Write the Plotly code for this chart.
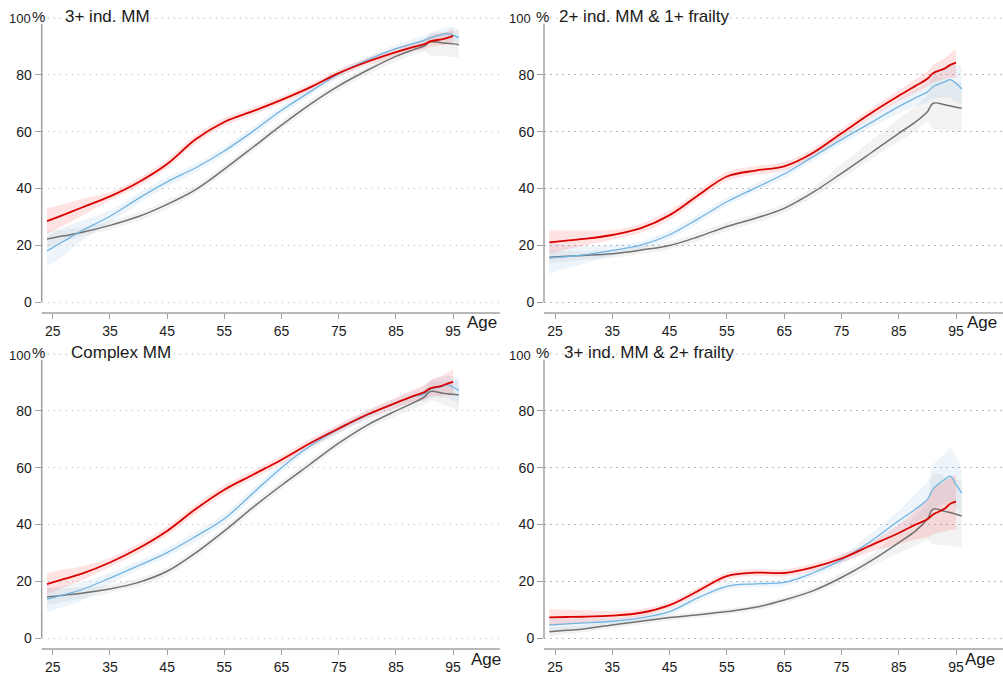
import plotly.graph_objects as go

W, H = 1003, 676

ages = [24, 27, 30, 35, 40, 45, 50, 55, 60, 65, 70, 75, 80, 85, 88, 90, 91, 93, 94, 95, 96]
x_ticks = [25, 35, 45, 55, 65, 75, 85, 95]
y_ticks = [0, 20, 40, 60, 80]
y_ticklabels = ["0", "20", "40", "60", "80"]
panel_titles = ["3+ ind. MM", "2+ ind. MM & 1+ frailty", "Complex MM", "3+ ind. MM & 2+ frailty"]

# ---- Panel 1: 3+ ind. MM ----
p1_red = [28.5, 30.8, 33.2, 37.2, 42.2, 48.6, 57.3, 63.4, 67.2, 71.2, 75.6, 80.6, 84.6, 88, 89.8, 90.8, 91.8, 92.5, 93, 93.7]
p1_red_lo = [24, 27, 30.3, 35.8, 40.8, 47.1, 55.8, 62, 65.9, 70, 74.4, 79.4, 83.3, 86.5, 88.2, 89, 89.8, 90.3, 90.7, 91]
p1_red_hi = [33, 34.5, 36.2, 38.7, 43.7, 50.1, 58.8, 64.9, 68.6, 72.5, 76.8, 81.9, 85.9, 89.5, 91.4, 92.6, 93.8, 94.7, 95.3, 96.3]
p1_blue = [18, 21.5, 25, 30.2, 36.5, 42.3, 47.3, 53.2, 60.1, 67.5, 74, 80.3, 85.2, 89.2, 91, 92.2, 93, 94.2, 94.5, 94, 93]
p1_blue_lo = [12.5, 16.5, 21.5, 28, 34.7, 40.6, 45.8, 51.7, 58.6, 66, 72.6, 79, 84, 87.8, 89.5, 90.5, 91.2, 92, 92, 91.3, 90]
p1_blue_hi = [23, 26.3, 28.5, 32.3, 38.3, 44, 48.8, 54.7, 61.6, 69, 75.4, 81.6, 86.4, 90.6, 92.5, 93.9, 94.8, 96.2, 96.8, 96.8, 96]
p1_gray = [22.2, 23.3, 24.5, 27, 30.1, 34.4, 39.6, 46.8, 54.5, 62.3, 69.6, 76.1, 81.6, 86.5, 88.8, 90.2, 91.6, 91.3, 91.1, 90.9, 90.6]
p1_gray_lo = [19, 21.3, 23, 25.5, 28.6, 32.8, 38.1, 45.3, 53, 60.8, 68.1, 74.6, 80, 84.7, 86.8, 88, 86.8, 86.6, 86.5, 86.3, 86]
p1_gray_hi = [25.5, 25.5, 26.2, 28.5, 31.6, 36, 41.1, 48.3, 56, 63.8, 71.1, 77.6, 83.2, 88.3, 90.8, 92.4, 94.5, 95, 95.2, 95.4, 95.5]

# ---- Panel 2: 2+ ind. MM & 1+ frailty ----
p2_red = [21, 21.6, 22.2, 23.6, 26, 30.6, 37.6, 44.2, 46.3, 47.8, 52.5, 59.4, 66.3, 72.6, 76.2, 78.6, 80.6, 82.2, 83.5, 84.3]
p2_red_lo = [17, 18.5, 19.8, 22, 24.4, 29, 36, 42.6, 44.8, 46.3, 51, 57.8, 64.6, 70.7, 73.8, 75.9, 77.5, 78.5, 79, 79]
p2_red_hi = [25.3, 25.2, 25.2, 25.4, 27.6, 32.2, 39.2, 45.8, 47.8, 49.4, 54, 61, 68, 74.6, 78.5, 81.3, 83.5, 85.8, 87.5, 89.2]
p2_blue = [15.5, 16, 16.6, 18.2, 20, 23.7, 29.3, 35.3, 40.2, 45.1, 51.1, 57.2, 63, 68.8, 72, 74, 75.8, 77.5, 78.3, 77, 75]
p2_blue_lo = [10, 11.8, 13.5, 16.3, 18.6, 22.2, 27.8, 33.8, 38.7, 43.6, 49.6, 55.6, 61.2, 66.5, 69, 70.5, 71.5, 72, 71.8, 70.5, 69.5]
p2_blue_hi = [21, 20.2, 19.8, 20.1, 21.4, 25.2, 30.8, 36.8, 41.7, 46.6, 52.6, 58.8, 64.8, 71.2, 75, 77.5, 80.2, 83, 84, 83.5, 83]
p2_gray = [15.8, 16.1, 16.4, 17, 18.3, 19.9, 23, 26.6, 29.5, 33, 38.6, 45.3, 52.3, 59.4, 63.5, 67, 70, 69.5, 69, 68.6, 68.2]
p2_gray_lo = [13.5, 14.2, 14.9, 15.6, 16.9, 18.5, 21.5, 25, 27.9, 31.4, 36.9, 43.4, 50, 56.6, 60.3, 63.3, 61, 60.6, 60.4, 60, 59.5]
p2_gray_hi = [18.2, 18, 17.9, 18.4, 19.7, 21.3, 24.5, 28.2, 31.1, 34.6, 40.3, 48.5, 56.5, 64.5, 69, 73, 79, 78.5, 78, 77.5, 77]

# ---- Panel 3: Complex MM ----
p3_red = [19, 20.8, 22.6, 26.6, 31.6, 37.7, 45.4, 52.2, 57.5, 62.8, 68.6, 73.8, 78.7, 82.8, 85.2, 86.6, 87.9, 88.8, 89.6, 90.2]
p3_red_lo = [15.5, 17.8, 20.3, 25, 30, 36.2, 43.8, 50.6, 56, 61.3, 67.1, 72.3, 77.2, 81, 83, 84, 85, 85.3, 85.5, 85.5]
p3_red_hi = [23, 24.1, 25.2, 28.2, 33.2, 39.3, 47, 53.8, 59, 64.3, 70.1, 75.3, 80.2, 84.6, 87.4, 89.2, 90.8, 92.3, 93.5, 94.5]
p3_blue = [13.7, 15.3, 17, 21.1, 25.5, 30.1, 35.8, 42, 51, 60, 67.6, 73.5, 78.5, 82.8, 85, 86, 87.6, 88.5, 89.2, 88.3, 87.2]
p3_blue_lo = [9, 11, 13, 19, 24, 28.6, 34, 40.2, 49.4, 58.5, 66.1, 72, 77, 81.2, 83, 83.5, 84.5, 84.5, 84.5, 83.5, 82.5]
p3_blue_hi = [17.5, 18.5, 19.5, 23, 27, 31.6, 37.4, 43.8, 52.6, 61.5, 69.1, 75, 80, 84.4, 87, 88.5, 90.7, 92, 92.5, 92, 91.5]
p3_gray = [14.5, 15.1, 15.8, 17.3, 19.6, 23.5, 30, 37.7, 46, 53.8, 61.2, 68.6, 75, 80, 82.8, 84.9, 86.8, 86.3, 86, 85.8, 85.6]
p3_gray_lo = [11.5, 12.7, 13.8, 15.8, 18.1, 22, 28.5, 36.2, 44.5, 52.3, 59.7, 67.1, 73.4, 78.2, 80.6, 82.3, 83.5, 82.5, 81.7, 81, 80.5]
p3_gray_hi = [17.5, 17.5, 17.8, 18.8, 21.1, 25, 31.5, 39.2, 47.5, 55.3, 62.7, 70.1, 76.6, 81.8, 85, 87.5, 90.2, 90.5, 90.6, 90.7, 90.8]

# ---- Panel 4: 3+ ind. MM & 2+ frailty ----
p4_red = [7.3, 7.4, 7.5, 7.9, 8.9, 11.6, 16.6, 21.8, 23, 22.9, 24.9, 28, 32.5, 37, 40, 41.8, 43.5, 45.5, 47.3, 48]
p4_red_lo = [4.2, 4.8, 5.3, 6.4, 7.6, 10.4, 15.3, 20.5, 21.8, 21.7, 23.6, 26.6, 30.3, 33, 34.8, 35.5, 36.5, 37.5, 38, 38.2]
p4_red_hi = [10.2, 10, 9.8, 9.4, 10.2, 12.8, 17.9, 23.1, 24.2, 24.1, 26.2, 29.4, 33.7, 40, 45, 49, 52.5, 55, 56.5, 57.5]
p4_blue = [4.6, 5, 5.3, 5.9, 7.1, 9.3, 14.2, 18.2, 19.1, 19.6, 22.9, 27.5, 33.9, 41.3, 45.5, 48.8, 52.5, 55.8, 57, 54, 51]
p4_blue_lo = [2.5, 3.1, 3.8, 4.9, 6, 8.2, 13, 17, 17.9, 18.4, 21.6, 26, 31.8, 37.8, 41, 43, 45.5, 47.5, 48, 46, 44]
p4_blue_hi = [6.8, 6.8, 6.8, 6.9, 8.2, 10.4, 15.4, 19.4, 20.3, 20.8, 24.2, 29.2, 36.5, 44.8, 51, 55, 61, 65, 67, 64, 60]
p4_gray = [2.2, 2.7, 3.2, 4.6, 5.9, 7.2, 8.2, 9.3, 10.8, 13.4, 16.6, 21.3, 27, 33.6, 37.8, 41.9, 45.4, 44.6, 44.2, 43.6, 43]
p4_gray_lo = [0.6, 1.3, 2, 3.4, 4.8, 6.1, 7.2, 8.3, 9.7, 12.2, 15.3, 19.7, 25, 30, 32.5, 34.5, 33, 32.8, 32.5, 32.2, 31.8]
p4_gray_hi = [3.9, 4.1, 4.5, 5.8, 7, 8.3, 9.2, 10.3, 11.9, 14.6, 17.9, 23, 29, 37.2, 43, 48, 58, 57, 56.5, 56, 55]

panels = [
    dict(red=(p1_red, p1_red_lo, p1_red_hi), blue=(p1_blue, p1_blue_lo, p1_blue_hi), gray=(p1_gray, p1_gray_lo, p1_gray_hi)),
    dict(red=(p2_red, p2_red_lo, p2_red_hi), blue=(p2_blue, p2_blue_lo, p2_blue_hi), gray=(p2_gray, p2_gray_lo, p2_gray_hi)),
    dict(red=(p3_red, p3_red_lo, p3_red_hi), blue=(p3_blue, p3_blue_lo, p3_blue_hi), gray=(p3_gray, p3_gray_lo, p3_gray_hi)),
    dict(red=(p4_red, p4_red_lo, p4_red_hi), blue=(p4_blue, p4_blue_lo, p4_blue_hi), gray=(p4_gray, p4_gray_lo, p4_gray_hi)),
]

line_colors = {"red": "#d90000", "blue": "#72b4e2", "gray": "#717171"}
band_colors = {"red": "rgba(255,60,60,0.15)", "blue": "rgba(150,195,230,0.17)", "gray": "rgba(160,160,160,0.14)"}
line_widths = {"red": 1.8, "blue": 1.3, "gray": 1.5}
SMOOTH = 1.0

FONT = "Liberation Sans, Arial, Helvetica, sans-serif"
TXT = "#1a1a1a"
AX = "#a0a0a0"
GRID = "#b8b8b8"
GRID_DASH = "1.5px,4.5px"

# layout geometry in pixels
col_x = [(41.7, 500.0), (544.0, 1003.0)]
row_y = [(15.2, 313.1), (351.2, 649.1)]
XR = [23.07, 103.2]
YR = [-3.9, 101]

fig = go.Figure()
layout_axes = {}
shapes = []
annotations = []

for i, pdata in enumerate(panels):
    r, c = divmod(i, 2)
    n = i + 1
    xa = "x" if n == 1 else f"x{n}"
    ya = "y" if n == 1 else f"y{n}"
    xl = "xaxis" if n == 1 else f"xaxis{n}"
    yl = "yaxis" if n == 1 else f"yaxis{n}"
    x0p, x1p = col_x[c]
    y0p, y1p = row_y[r]
    layout_axes[xl] = dict(
        domain=[x0p / W, x1p / W], range=XR, anchor=ya, tickvals=x_ticks,
        ticks="outside", ticklen=5, tickcolor=AX, tickwidth=1.2, showgrid=False,
        showline=False, zeroline=False, tickfont=dict(size=14, color=TXT, family=FONT),
        fixedrange=True,
    )
    layout_axes[yl] = dict(
        domain=[1 - y1p / H, 1 - y0p / H], range=YR, anchor=xa, tickvals=y_ticks,
        ticktext=y_ticklabels, ticks="outside", ticklen=6, tickcolor=AX, tickwidth=1.2,
        showgrid=True, gridcolor=GRID, griddash=GRID_DASH, gridwidth=1,
        showline=False, zeroline=False, tickfont=dict(size=14, color=TXT, family=FONT),
        fixedrange=True,
    )
    # bands
    for key in ["gray", "blue", "red"]:
        m, lo, hi = pdata[key]
        xs = ages[:len(m)]
        fig.add_trace(go.Scatter(x=xs, y=hi, mode="lines", line=dict(width=0, shape="spline", smoothing=SMOOTH),
                                 xaxis=xa, yaxis=ya, showlegend=False, hoverinfo="skip"))
        fig.add_trace(go.Scatter(x=xs, y=lo, mode="lines", line=dict(width=0, shape="spline", smoothing=SMOOTH),
                                 fill="tonexty", fillcolor=band_colors[key],
                                 xaxis=xa, yaxis=ya, showlegend=False, hoverinfo="skip"))
    # lines
    for key in ["gray", "blue", "red"]:
        m, lo, hi = pdata[key]
        xs = ages[:len(m)]
        fig.add_trace(go.Scatter(x=xs, y=m, mode="lines",
                                 line=dict(color=line_colors[key], width=line_widths[key], shape="spline", smoothing=SMOOTH),
                                 xaxis=xa, yaxis=ya, showlegend=False))
    # axis lines + 100 gridline
    shapes.append(dict(type="line", xref=f"{xa} domain", yref=f"{ya} domain", x0=0, x1=1, y0=0, y1=0,
                       line=dict(color=AX, width=1.5)))
    shapes.append(dict(type="line", xref=f"{xa} domain", yref=ya, x0=0, x1=0, y0=0, y1=98,
                       line=dict(color=AX, width=1.5)))
    shapes.append(dict(type="line", xref=f"{xa} domain", yref=ya, x0=0, x1=1, y0=100, y1=100,
                       line=dict(color=GRID, width=1, dash=GRID_DASH)))

    # texts
    yoff = 0 if r == 0 else 336
    if c == 0:
        hundred_x, pct_x, title_x, age_x = 33, 30, (63 if r == 0 else 69), (465 if r == 0 else 469)
    else:
        hundred_x, pct_x, title_x, age_x = 533, 534, (557 if r == 0 else 562), (965 if r == 0 else 963)
    annotations.append(dict(xref="paper", yref="paper", x=hundred_x / W, y=1 - (19 + yoff) / H,
                            xanchor="right", yanchor="middle", showarrow=False, text="100",
                            font=dict(size=13, color=TXT, family=FONT)))
    annotations.append(dict(xref="paper", yref="paper", x=pct_x / W, y=1 - (17 + yoff) / H,
                            xanchor="left", yanchor="middle", showarrow=False, text="%",
                            font=dict(size=15, color=TXT, family=FONT)))
    annotations.append(dict(xref="paper", yref="paper", x=title_x / W, y=1 - (17 + yoff) / H,
                            xanchor="left", yanchor="middle", showarrow=False, text=panel_titles[i],
                            font=dict(size=17, color=TXT, family=FONT)))
    annotations.append(dict(xref="paper", yref="paper", x=age_x / W, y=1 - (323 + yoff) / H,
                            xanchor="left", yanchor="middle", showarrow=False, text="Age",
                            font=dict(size=17, color=TXT, family=FONT)))

fig.update_layout(
    width=W, height=H, margin=dict(l=0, r=0, t=0, b=0),
    paper_bgcolor="white", plot_bgcolor="white",
    font=dict(family=FONT, color=TXT),
    shapes=shapes, annotations=annotations, showlegend=False,
    **layout_axes,
)

fig.write_html(
    "out.html",
    config={"displayModeBar": False},
    post_script="document.body.style.margin='0';document.body.style.overflow='hidden';",
)
